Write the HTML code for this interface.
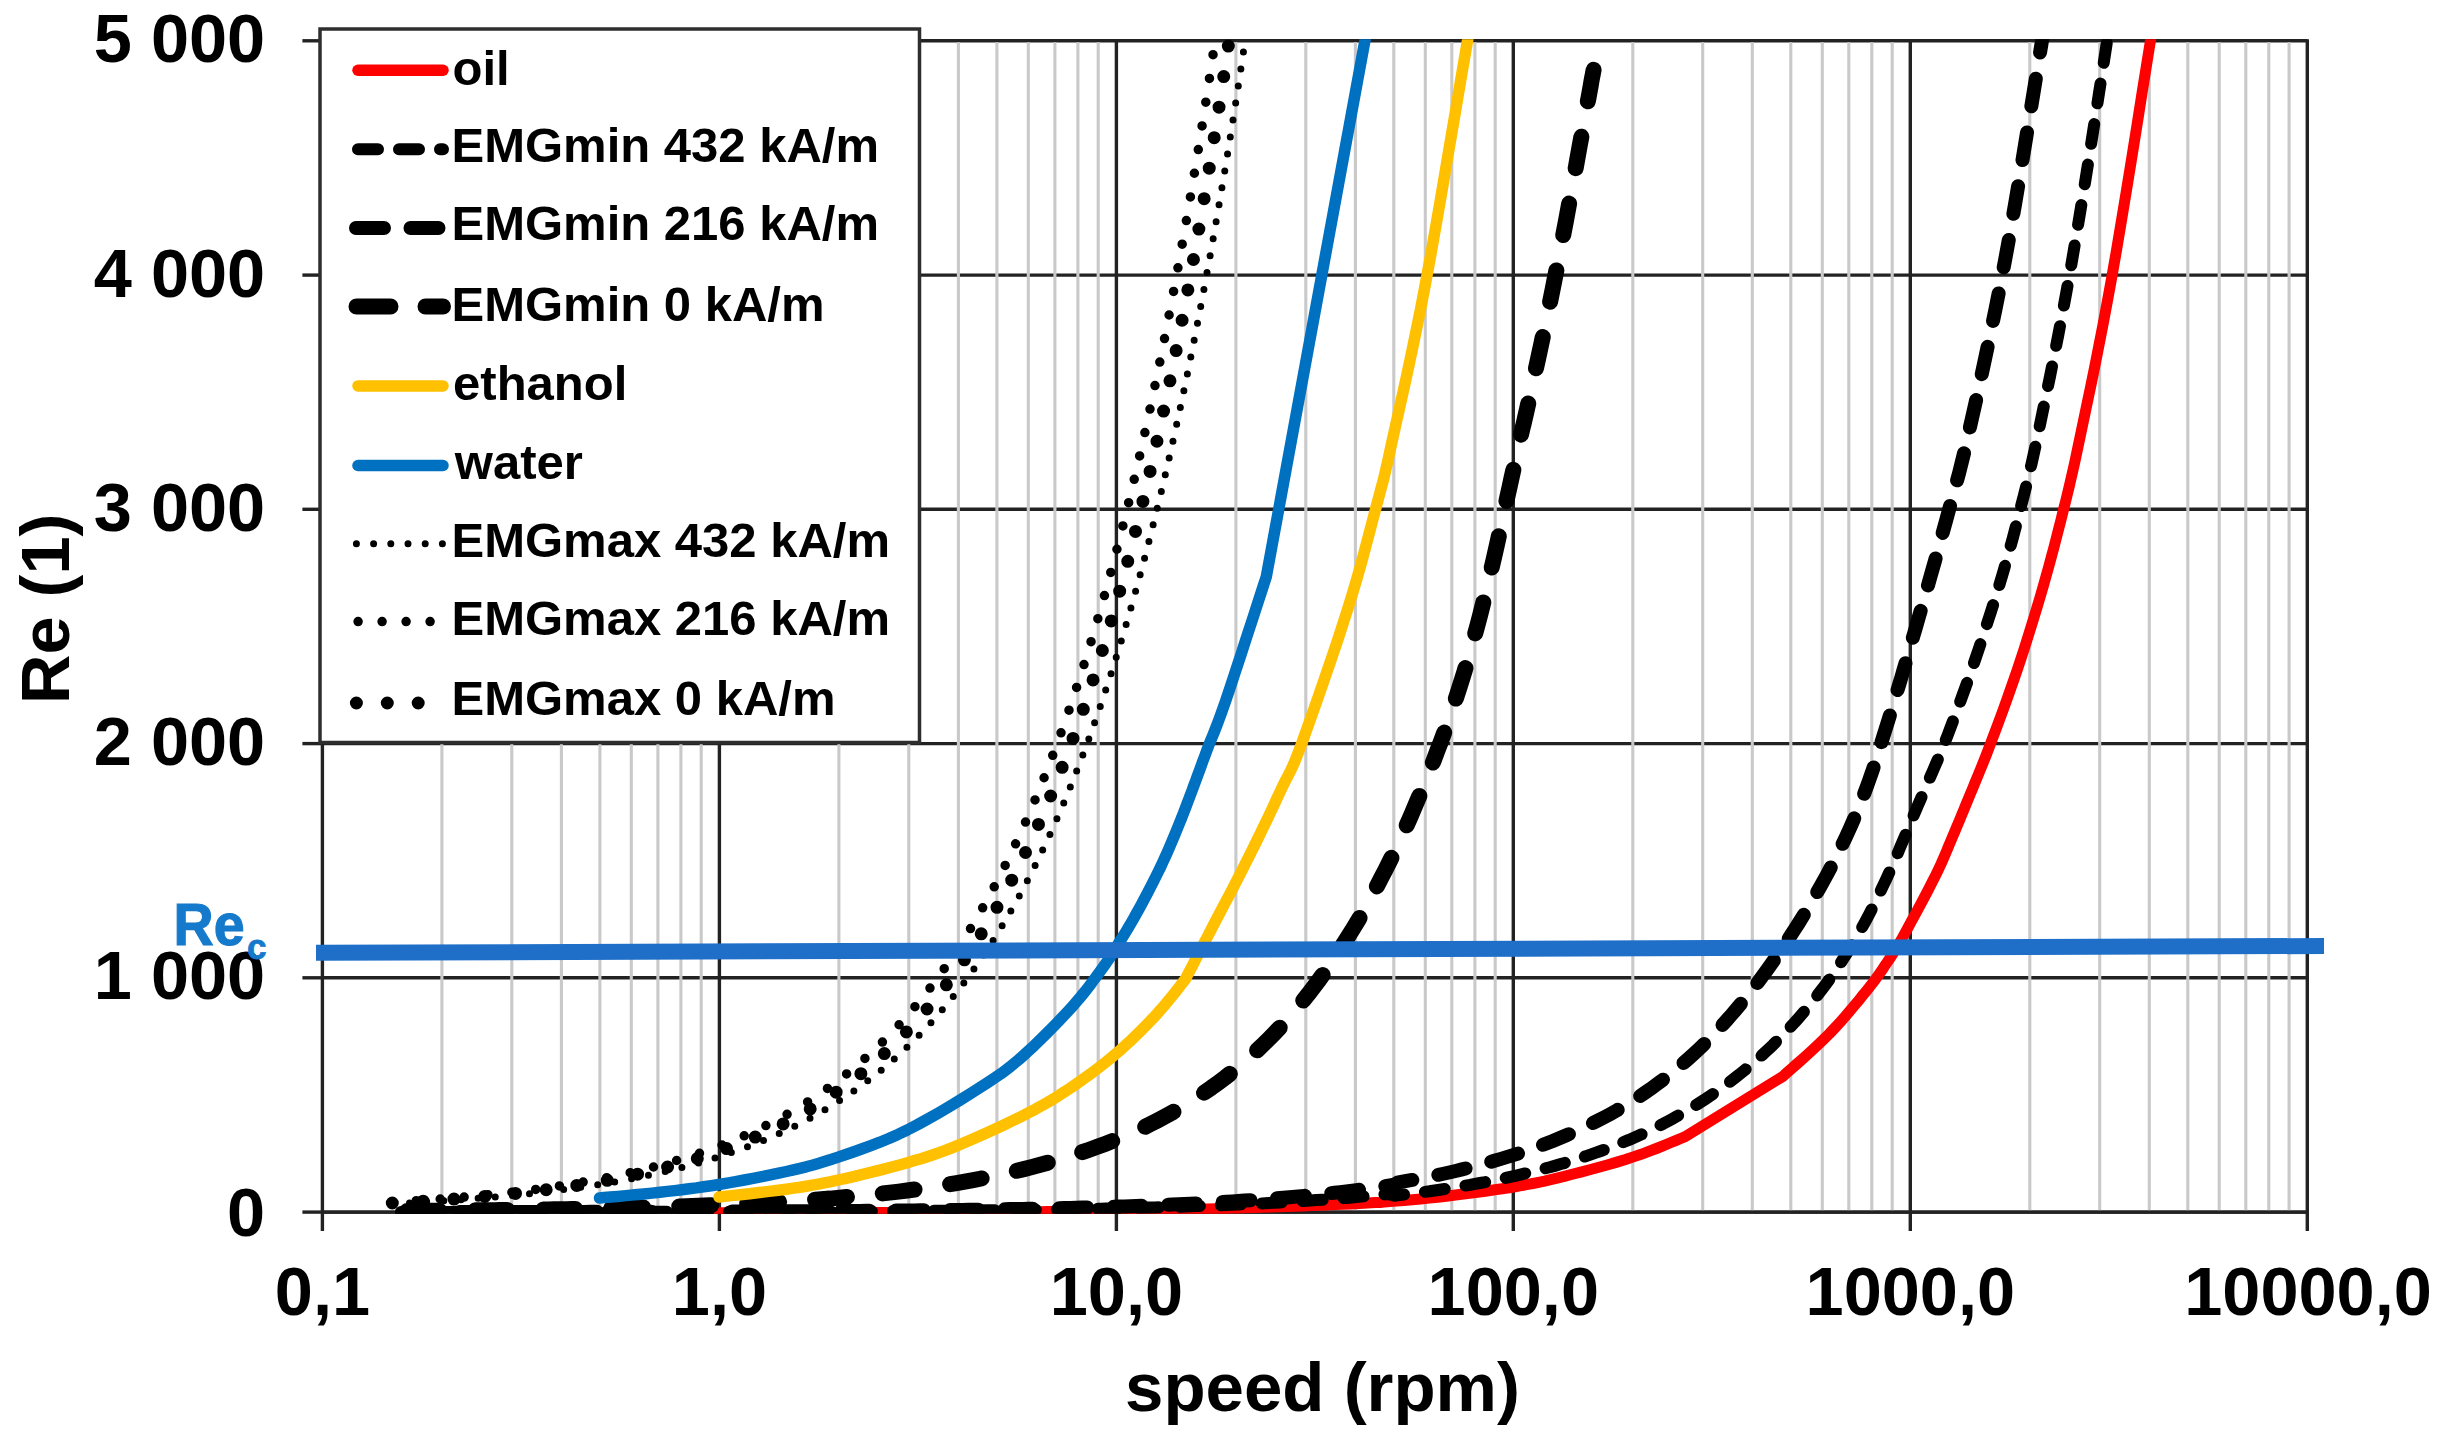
<!DOCTYPE html>
<html lang="en"><head><meta charset="utf-8"><title>Re vs speed</title>
<style>html,body{margin:0;padding:0;background:#fff;overflow:hidden}svg{display:block}</style></head>
<body>
<svg width="2437" height="1434" viewBox="0 0 2437 1434" role="img" aria-label="Reynolds number versus speed chart">
<defs><clipPath id="plot"><rect x="322.4" y="39.2" width="1984.9" height="1174.5"/></clipPath></defs>
<rect width="2437" height="1434" fill="#fff"/>
<g stroke="#222" stroke-width="3.4">
<line x1="322.4" y1="1212.1" x2="2307.3" y2="1212.1"/>
<line x1="322.4" y1="977.8" x2="2307.3" y2="977.8"/>
<line x1="322.4" y1="743.6" x2="2307.3" y2="743.6"/>
<line x1="322.4" y1="509.3" x2="2307.3" y2="509.3"/>
<line x1="322.4" y1="275.1" x2="2307.3" y2="275.1"/>
<line x1="322.4" y1="40.8" x2="2307.3" y2="40.8"/>
</g>
<g stroke="#c9c9c9" stroke-width="3.1">
<line x1="441.9" y1="42.3" x2="441.9" y2="1210.6"/>
<line x1="511.8" y1="42.3" x2="511.8" y2="1210.6"/>
<line x1="561.4" y1="42.3" x2="561.4" y2="1210.6"/>
<line x1="599.9" y1="42.3" x2="599.9" y2="1210.6"/>
<line x1="631.3" y1="42.3" x2="631.3" y2="1210.6"/>
<line x1="657.9" y1="42.3" x2="657.9" y2="1210.6"/>
<line x1="680.9" y1="42.3" x2="680.9" y2="1210.6"/>
<line x1="701.2" y1="42.3" x2="701.2" y2="1210.6"/>
<line x1="838.9" y1="42.3" x2="838.9" y2="1210.6"/>
<line x1="908.8" y1="42.3" x2="908.8" y2="1210.6"/>
<line x1="958.4" y1="42.3" x2="958.4" y2="1210.6"/>
<line x1="996.9" y1="42.3" x2="996.9" y2="1210.6"/>
<line x1="1028.3" y1="42.3" x2="1028.3" y2="1210.6"/>
<line x1="1054.9" y1="42.3" x2="1054.9" y2="1210.6"/>
<line x1="1077.9" y1="42.3" x2="1077.9" y2="1210.6"/>
<line x1="1098.2" y1="42.3" x2="1098.2" y2="1210.6"/>
<line x1="1235.9" y1="42.3" x2="1235.9" y2="1210.6"/>
<line x1="1305.8" y1="42.3" x2="1305.8" y2="1210.6"/>
<line x1="1355.4" y1="42.3" x2="1355.4" y2="1210.6"/>
<line x1="1393.8" y1="42.3" x2="1393.8" y2="1210.6"/>
<line x1="1425.3" y1="42.3" x2="1425.3" y2="1210.6"/>
<line x1="1451.8" y1="42.3" x2="1451.8" y2="1210.6"/>
<line x1="1474.9" y1="42.3" x2="1474.9" y2="1210.6"/>
<line x1="1495.2" y1="42.3" x2="1495.2" y2="1210.6"/>
<line x1="1632.8" y1="42.3" x2="1632.8" y2="1210.6"/>
<line x1="1702.7" y1="42.3" x2="1702.7" y2="1210.6"/>
<line x1="1752.3" y1="42.3" x2="1752.3" y2="1210.6"/>
<line x1="1790.8" y1="42.3" x2="1790.8" y2="1210.6"/>
<line x1="1822.3" y1="42.3" x2="1822.3" y2="1210.6"/>
<line x1="1848.8" y1="42.3" x2="1848.8" y2="1210.6"/>
<line x1="1871.8" y1="42.3" x2="1871.8" y2="1210.6"/>
<line x1="1892.2" y1="42.3" x2="1892.2" y2="1210.6"/>
<line x1="2029.8" y1="42.3" x2="2029.8" y2="1210.6"/>
<line x1="2099.7" y1="42.3" x2="2099.7" y2="1210.6"/>
<line x1="2149.3" y1="42.3" x2="2149.3" y2="1210.6"/>
<line x1="2187.8" y1="42.3" x2="2187.8" y2="1210.6"/>
<line x1="2219.2" y1="42.3" x2="2219.2" y2="1210.6"/>
<line x1="2245.8" y1="42.3" x2="2245.8" y2="1210.6"/>
<line x1="2268.8" y1="42.3" x2="2268.8" y2="1210.6"/>
<line x1="2289.1" y1="42.3" x2="2289.1" y2="1210.6"/>
</g>
<g stroke="#222" stroke-width="3.4">
<line x1="322.4" y1="39.3" x2="322.4" y2="1231.1"/>
<line x1="719.4" y1="39.3" x2="719.4" y2="1231.1"/>
<line x1="1116.4" y1="39.3" x2="1116.4" y2="1231.1"/>
<line x1="1513.3" y1="39.3" x2="1513.3" y2="1231.1"/>
<line x1="1910.3" y1="39.3" x2="1910.3" y2="1231.1"/>
<line x1="2307.3" y1="39.3" x2="2307.3" y2="1231.1"/>
<line x1="302.4" y1="1212.1" x2="322.4" y2="1212.1"/>
<line x1="302.4" y1="977.8" x2="322.4" y2="977.8"/>
<line x1="302.4" y1="743.6" x2="322.4" y2="743.6"/>
<line x1="302.4" y1="509.3" x2="322.4" y2="509.3"/>
<line x1="302.4" y1="275.1" x2="322.4" y2="275.1"/>
<line x1="302.4" y1="40.8" x2="322.4" y2="40.8"/>
<line x1="322.4" y1="1212.1" x2="2307.3" y2="1212.1"/>
</g>
<g clip-path="url(#plot)" fill="none" stroke-linecap="round" stroke-linejoin="round">
<path d="M719.4,1212.8 L727.4,1212.8 L735.4,1212.8 L743.4,1212.8 L751.4,1212.7 L759.4,1212.7 L767.4,1212.7 L775.4,1212.7 L783.4,1212.7 L791.4,1212.7 L799.4,1212.7 L807.4,1212.6 L815.4,1212.6 L823.4,1212.6 L831.4,1212.6 L839.4,1212.6 L847.4,1212.6 L855.4,1212.5 L863.4,1212.5 L871.4,1212.5 L879.4,1212.5 L887.4,1212.4 L895.4,1212.4 L903.4,1212.4 L911.4,1212.4 L919.4,1212.3 L927.4,1212.3 L935.4,1212.3 L943.4,1212.2 L951.4,1212.2 L959.4,1212.2 L967.4,1212.1 L975.4,1212.1 L983.4,1212.0 L991.4,1212.0 L999.4,1211.9 L1007.4,1211.9 L1015.4,1211.8 L1023.4,1211.8 L1031.4,1211.7 L1039.4,1211.7 L1047.4,1211.6 L1055.4,1211.5 L1063.4,1211.4 L1071.4,1211.4 L1079.4,1211.3 L1087.4,1211.2 L1095.4,1211.1 L1103.4,1211.0 L1111.4,1210.9 L1119.4,1210.8 L1127.4,1210.6 L1135.4,1210.5 L1143.4,1210.3 L1151.4,1210.2 L1159.4,1210.0 L1167.4,1209.9 L1175.4,1209.7 L1183.4,1209.5 L1191.4,1209.3 L1199.4,1209.1 L1207.4,1208.9 L1215.4,1208.7 L1223.4,1208.5 L1231.4,1208.3 L1239.4,1208.1 L1247.4,1207.8 L1255.4,1207.6 L1263.4,1207.3 L1271.4,1207.0 L1279.4,1206.8 L1287.4,1206.5 L1295.4,1206.2 L1303.4,1205.9 L1311.4,1205.6 L1319.4,1205.3 L1327.4,1204.9 L1335.4,1204.6 L1343.4,1204.2 L1351.4,1203.9 L1359.4,1203.5 L1367.4,1203.1 L1375.4,1202.6 L1380.0,1202.4 L1384.3,1202.0 L1389.9,1201.6 L1396.6,1201.0 L1404.1,1200.4 L1412.2,1199.7 L1420.6,1199.0 L1429.2,1198.1 L1437.6,1197.2 L1446.3,1196.2 L1455.6,1195.0 L1465.4,1193.8 L1475.4,1192.5 L1485.3,1191.2 L1494.9,1189.8 L1504.0,1188.5 L1512.4,1187.2 L1519.9,1185.9 L1526.6,1184.7 L1532.8,1183.5 L1538.7,1182.3 L1544.6,1181.1 L1550.7,1179.7 L1557.1,1178.1 L1564.3,1176.4 L1572.2,1174.3 L1580.8,1172.1 L1589.7,1169.7 L1598.9,1167.2 L1608.0,1164.7 L1616.9,1162.1 L1625.5,1159.5 L1633.4,1156.9 L1641.1,1154.3 L1648.8,1151.4 L1656.4,1148.5 L1663.6,1145.6 L1670.3,1142.8 L1676.3,1140.3 L1681.3,1138.2 L1685.2,1136.6 L1783.1,1076.2 L1786.7,1072.9 L1791.6,1068.6 L1797.4,1063.5 L1803.8,1057.8 L1810.5,1051.7 L1817.2,1045.5 L1823.5,1039.5 L1829.2,1033.9 L1834.4,1028.4 L1839.6,1022.8 L1844.6,1017.1 L1849.5,1011.4 L1854.2,1005.8 L1858.7,1000.4 L1862.8,995.3 L1866.6,990.7 L1870.0,986.4 L1872.9,982.6 L1875.6,979.1 L1878.0,975.8 L1880.2,972.6 L1882.4,969.5 L1884.5,966.2 L1886.8,962.9 L1889.0,959.6 L1891.0,956.6 L1892.8,953.8 L1894.7,950.9 L1896.6,947.7 L1898.8,944.1 L1901.2,939.9 L1904.0,934.9 L1907.4,928.8 L1911.2,921.7 L1915.5,913.9 L1919.9,905.7 L1924.3,897.4 L1928.5,889.4 L1932.3,881.8 L1935.7,875.2 L1938.5,869.3 L1941.0,864.0 L1943.2,859.0 L1945.2,854.3 L1947.1,849.9 L1948.9,845.4 L1950.8,841.0 L1952.7,836.4 L1954.7,831.8 L1956.5,827.4 L1958.3,823.1 L1960.1,818.8 L1961.9,814.4 L1963.8,809.8 L1965.8,804.9 L1968.0,799.6 L1970.3,794.0 L1972.7,788.3 L1975.1,782.4 L1977.7,776.2 L1980.3,769.8 L1983.1,762.9 L1986.0,755.6 L1989.0,747.8 L1992.2,739.3 L1995.6,730.3 L1999.1,720.8 L2002.8,710.9 L2006.5,700.7 L2010.1,690.4 L2013.7,680.2 L2017.2,670.0 L2020.6,659.8 L2024.0,649.4 L2027.3,638.9 L2030.6,628.3 L2033.9,617.7 L2037.1,607.2 L2040.2,596.8 L2043.1,586.7 L2045.9,576.8 L2048.6,567.1 L2051.2,557.5 L2053.8,547.9 L2056.2,538.5 L2058.6,529.1 L2061.0,519.8 L2063.3,510.4 L2065.5,501.8 L2067.4,494.0 L2069.2,486.6 L2070.9,479.1 L2072.8,471.0 L2074.9,461.6 L2077.2,450.6 L2080.0,437.4 L2083.2,422.1 L2086.7,405.4 L2090.5,387.3 L2094.5,367.8 L2098.6,347.1 L2102.9,325.3 L2107.2,302.3 L2111.6,278.3 L2116.3,251.5 L2121.4,221.0 L2126.8,188.3 L2132.2,155.1 L2137.4,122.7 L2142.1,92.7 L2146.3,66.6 L2149.6,46.0 L2152.0,31.0 L2153.7,20.3 L2154.7,13.1 L2155.4,8.5 L2155.7,5.7 L2155.9,3.9 L2156.1,2.3 L2156.4,0.0" stroke="#ff0000" stroke-width="11"/>
<path d="M392.3,1212.0 L398.3,1212.0 L404.3,1212.0 L410.3,1212.0 L416.3,1212.0 L422.3,1212.0 L428.3,1212.0 L434.3,1212.0 L440.3,1212.0 L446.3,1212.0 L452.3,1212.0 L458.3,1212.0 L464.3,1212.0 L470.3,1212.0 L476.3,1212.0 L482.3,1212.0 L488.3,1212.0 L494.3,1212.0 L500.3,1212.0 L506.3,1212.0 L512.3,1212.0 L518.3,1212.0 L524.3,1212.0 L530.3,1212.0 L536.3,1212.0 L542.3,1212.0 L548.3,1212.0 L554.3,1212.0 L560.3,1212.0 L566.3,1211.9 L572.3,1211.9 L578.3,1211.9 L584.3,1211.9 L590.3,1211.9 L596.3,1211.9 L602.3,1211.9 L608.3,1211.9 L614.3,1211.9 L620.3,1211.9 L626.3,1211.9 L632.3,1211.9 L638.3,1211.9 L644.3,1211.9 L650.3,1211.8 L656.3,1211.8 L662.3,1211.8 L668.3,1211.8 L674.3,1211.8 L680.3,1211.8 L686.3,1211.8 L692.3,1211.8 L698.3,1211.8 L704.3,1211.8 L710.3,1211.7 L716.3,1211.7 L722.3,1211.7 L728.3,1211.7 L734.3,1211.7 L740.3,1211.7 L746.3,1211.7 L752.3,1211.6 L758.3,1211.6 L764.3,1211.6 L770.3,1211.6 L776.3,1211.6 L782.3,1211.6 L788.3,1211.5 L794.3,1211.5 L800.3,1211.5 L806.3,1211.5 L812.3,1211.5 L818.3,1211.4 L824.3,1211.4 L830.3,1211.4 L836.3,1211.4 L842.3,1211.3 L848.3,1211.3 L854.3,1211.3 L860.3,1211.3 L866.3,1211.2 L872.3,1211.2 L878.3,1211.2 L884.3,1211.1 L890.3,1211.1 L896.3,1211.1 L902.3,1211.0 L908.3,1211.0 L914.3,1210.9 L920.3,1210.9 L926.3,1210.9 L932.3,1210.8 L938.3,1210.8 L944.3,1210.7 L950.3,1210.7 L956.3,1210.6 L962.3,1210.6 L968.3,1210.5 L974.3,1210.5 L980.3,1210.4 L986.3,1210.3 L992.3,1210.3 L998.3,1210.2 L1004.3,1210.1 L1010.3,1210.1 L1016.3,1210.0 L1022.3,1209.9 L1028.3,1209.9 L1034.3,1209.8 L1040.3,1209.7 L1046.3,1209.6 L1052.3,1209.5 L1058.3,1209.4 L1064.3,1209.3 L1070.3,1209.2 L1076.3,1209.1 L1082.3,1209.0 L1088.3,1208.9 L1094.3,1208.8 L1100.3,1208.7 L1106.3,1208.6 L1112.3,1208.4 L1118.3,1208.3 L1124.3,1208.2 L1130.3,1208.0 L1136.3,1207.9 L1142.3,1207.7 L1148.3,1207.6 L1154.3,1207.4 L1160.3,1207.3 L1166.3,1207.1 L1172.3,1206.9 L1178.3,1206.7 L1184.3,1206.5 L1190.3,1206.3 L1196.3,1206.1 L1202.3,1205.9 L1208.3,1205.7 L1214.3,1205.5 L1220.3,1205.3 L1226.3,1205.0 L1232.3,1204.8 L1238.3,1204.5 L1244.3,1204.2 L1250.3,1203.9 L1256.3,1203.7 L1262.3,1203.4 L1268.3,1203.1 L1274.3,1202.7 L1280.3,1202.4 L1286.3,1202.1 L1292.3,1201.7 L1298.3,1201.3 L1304.3,1201.0 L1310.3,1200.6 L1316.3,1200.1 L1322.3,1199.7 L1328.3,1199.3 L1334.3,1198.8 L1340.3,1198.4 L1346.3,1197.9 L1352.3,1197.4 L1358.3,1196.8 L1364.3,1196.3 L1370.3,1195.8 L1376.3,1195.2 L1382.3,1194.6 L1388.3,1194.0 L1394.4,1195.7 L1397.5,1195.3 L1401.6,1194.8 L1406.6,1194.2 L1412.0,1193.5 L1417.8,1192.8 L1423.7,1192.0 L1429.4,1191.3 L1434.7,1190.5 L1439.7,1189.8 L1444.8,1189.0 L1449.8,1188.2 L1454.8,1187.4 L1459.9,1186.6 L1464.9,1185.7 L1470.0,1184.9 L1475.0,1183.9 L1480.0,1183.0 L1485.1,1182.1 L1490.1,1181.1 L1495.2,1180.1 L1500.2,1179.1 L1505.2,1178.0 L1510.3,1176.9 L1515.3,1175.8 L1520.3,1174.6 L1525.4,1173.4 L1530.4,1172.2 L1535.4,1171.0 L1540.5,1169.7 L1545.5,1168.3 L1550.6,1167.0 L1555.6,1165.6 L1560.7,1164.1 L1565.8,1162.6 L1570.9,1161.0 L1576.0,1159.4 L1581.1,1157.8 L1586.1,1156.1 L1591.1,1154.4 L1596.0,1152.7 L1600.8,1151.0 L1605.6,1149.2 L1610.4,1147.4 L1615.1,1145.6 L1619.7,1143.7 L1624.3,1141.8 L1628.9,1139.9 L1633.4,1137.9 L1637.8,1136.0 L1642.2,1134.0 L1646.5,1132.0 L1650.7,1130.0 L1654.9,1128.0 L1659.2,1125.8 L1663.6,1123.6 L1668.0,1121.2 L1672.6,1118.7 L1677.3,1116.1 L1682.1,1113.3 L1686.9,1110.5 L1691.7,1107.6 L1696.4,1104.8 L1701.0,1101.9 L1705.4,1099.1 L1709.6,1096.3 L1713.8,1093.5 L1717.8,1090.7 L1721.7,1087.9 L1725.6,1085.0 L1729.4,1082.2 L1733.2,1079.3 L1737.0,1076.3 L1740.7,1073.4 L1744.4,1070.4 L1748.0,1067.4 L1751.6,1064.4 L1755.1,1061.4 L1758.7,1058.2 L1762.2,1055.0 L1765.8,1051.7 L1769.4,1048.3 L1773.1,1044.8 L1776.7,1041.2 L1780.4,1037.5 L1784.0,1033.8 L1787.6,1030.0 L1791.1,1026.2 L1794.6,1022.5 L1798.0,1018.7 L1801.3,1014.9 L1804.6,1011.0 L1807.9,1007.1 L1811.1,1003.2 L1814.3,999.3 L1817.4,995.3 L1820.5,991.3 L1823.5,987.3 L1826.5,983.3 L1829.4,979.4 L1832.2,975.3 L1835.1,971.2 L1837.9,967.1 L1840.7,962.8 L1843.6,958.3 L1846.5,953.7 L1849.4,949.0 L1852.4,944.2 L1855.3,939.2 L1858.2,934.2 L1861.0,929.2 L1863.9,924.1 L1866.6,919.1 L1869.3,914.0 L1871.9,908.9 L1874.5,903.7 L1877.1,898.5 L1879.6,893.3 L1882.0,888.1 L1884.4,883.0 L1886.8,877.9 L1889.1,872.8 L1891.4,867.6 L1893.7,862.5 L1895.9,857.3 L1898.1,852.3 L1900.1,847.5 L1902.0,843.0 L1903.8,838.8 L1905.4,835.2 L1906.7,832.1 L1907.8,829.3 L1908.9,826.7 L1910.0,824.1 L1911.1,821.3 L1912.5,818.2 L1914.0,814.5 L1915.8,810.3 L1917.8,805.7 L1919.9,800.8 L1922.1,795.7 L1924.4,790.5 L1926.6,785.3 L1928.8,780.3 L1930.8,775.6 L1932.7,771.3 L1934.4,767.4 L1936.0,763.7 L1937.6,760.0 L1939.3,756.1 L1941.1,751.9 L1943.0,747.1 L1945.2,741.5 L1947.7,735.1 L1950.4,727.9 L1953.3,720.2 L1956.3,712.1 L1959.4,703.9 L1962.4,695.6 L1965.4,687.4 L1968.2,679.6 L1970.9,671.9 L1973.6,664.2 L1976.2,656.5 L1978.8,648.8 L1981.3,641.3 L1983.7,633.8 L1986.1,626.6 L1988.4,619.5 L1990.6,612.8 L1992.6,606.5 L1994.6,600.3 L1996.5,594.3 L1998.4,588.3 L2000.2,582.1 L2002.2,575.6 L2004.2,568.6 L2006.3,561.3 L2008.4,553.8 L2010.6,546.0 L2012.8,538.1 L2014.9,530.0 L2017.1,521.7 L2019.3,513.2 L2021.5,504.6 L2023.6,496.5 L2025.5,488.9 L2027.3,481.5 L2029.2,473.8 L2031.2,465.3 L2033.4,455.5 L2035.9,444.1 L2038.8,430.4 L2042.1,414.6 L2045.7,397.1 L2049.7,378.0 L2053.8,357.5 L2058.1,336.0 L2062.4,313.5 L2066.7,290.4 L2071.0,266.7 L2075.4,240.9 L2080.2,212.0 L2085.2,181.5 L2090.1,150.5 L2094.8,120.4 L2099.1,92.5 L2102.9,68.2 L2105.9,48.6 L2108.1,34.1 L2109.6,23.4 L2110.6,15.8 L2111.2,10.7 L2111.5,7.2 L2111.7,4.8 L2111.8,2.6 L2112.1,0.0" stroke="#000" stroke-width="12" stroke-dasharray="20 21" stroke-dashoffset="-8.6"/>
<path d="M392.3,1212.0 L398.3,1212.0 L404.3,1212.0 L410.3,1212.0 L416.3,1212.0 L422.3,1212.0 L428.3,1212.0 L434.3,1212.0 L440.3,1212.0 L446.3,1212.0 L452.3,1212.0 L458.3,1212.0 L464.3,1212.0 L470.3,1212.0 L476.3,1212.0 L482.3,1212.0 L488.3,1212.0 L494.3,1212.0 L500.3,1211.9 L506.3,1211.9 L512.3,1211.9 L518.3,1211.9 L524.3,1211.9 L530.3,1211.9 L536.3,1211.9 L542.3,1211.9 L548.3,1211.9 L554.3,1211.9 L560.3,1211.9 L566.3,1211.9 L572.3,1211.9 L578.3,1211.9 L584.3,1211.9 L590.3,1211.8 L596.3,1211.8 L602.3,1211.8 L608.3,1211.8 L614.3,1211.8 L620.3,1211.8 L626.3,1211.8 L632.3,1211.8 L638.3,1211.8 L644.3,1211.7 L650.3,1211.7 L656.3,1211.7 L662.3,1211.7 L668.3,1211.7 L674.3,1211.7 L680.3,1211.7 L686.3,1211.6 L692.3,1211.6 L698.3,1211.6 L704.3,1211.6 L710.3,1211.6 L716.3,1211.6 L722.3,1211.5 L728.3,1211.5 L734.3,1211.5 L740.3,1211.5 L746.3,1211.5 L752.3,1211.4 L758.3,1211.4 L764.3,1211.4 L770.3,1211.4 L776.3,1211.3 L782.3,1211.3 L788.3,1211.3 L794.3,1211.3 L800.3,1211.2 L806.3,1211.2 L812.3,1211.2 L818.3,1211.1 L824.3,1211.1 L830.3,1211.1 L836.3,1211.0 L842.3,1211.0 L848.3,1210.9 L854.3,1210.9 L860.3,1210.9 L866.3,1210.8 L872.3,1210.8 L878.3,1210.7 L884.3,1210.7 L890.3,1210.6 L896.3,1210.6 L902.3,1210.5 L908.3,1210.5 L914.3,1210.4 L920.3,1210.3 L926.3,1210.3 L932.3,1210.2 L938.3,1210.2 L944.3,1210.1 L950.3,1210.0 L956.3,1209.9 L962.3,1209.9 L968.3,1209.8 L974.3,1209.7 L980.3,1209.6 L986.3,1209.5 L992.3,1209.4 L998.3,1209.3 L1004.3,1209.3 L1010.3,1209.1 L1016.3,1209.0 L1022.3,1208.9 L1028.3,1208.8 L1034.3,1208.7 L1040.3,1208.6 L1046.3,1208.5 L1052.3,1208.3 L1058.3,1208.2 L1064.3,1208.1 L1070.3,1207.9 L1076.3,1207.8 L1082.3,1207.6 L1088.3,1207.5 L1094.3,1207.3 L1100.3,1207.1 L1106.3,1207.0 L1112.3,1206.8 L1118.3,1206.6 L1124.3,1206.4 L1130.3,1206.2 L1136.3,1206.0 L1142.3,1205.8 L1148.3,1205.5 L1154.3,1205.3 L1160.3,1205.1 L1166.3,1204.8 L1172.3,1204.5 L1178.3,1204.3 L1184.3,1204.0 L1190.3,1203.7 L1196.3,1203.4 L1202.3,1203.1 L1208.3,1202.8 L1214.3,1202.5 L1220.3,1202.1 L1226.3,1201.8 L1232.3,1201.4 L1238.3,1201.0 L1244.3,1200.6 L1250.3,1200.2 L1256.3,1199.8 L1262.3,1199.4 L1268.3,1198.9 L1274.3,1198.5 L1280.3,1198.0 L1286.3,1197.5 L1292.3,1197.0 L1298.3,1196.4 L1304.3,1195.9 L1310.3,1195.3 L1316.3,1194.7 L1322.3,1194.1 L1328.3,1193.4 L1334.3,1192.8 L1340.3,1192.1 L1346.3,1191.4 L1352.3,1190.7 L1358.3,1189.9 L1364.3,1189.1 L1370.3,1188.3 L1376.3,1187.4 L1382.3,1186.6 L1388.3,1185.7 L1394.3,1184.7 L1397.3,1182.7 L1401.3,1181.9 L1406.6,1180.9 L1412.9,1179.8 L1420.0,1178.4 L1427.4,1177.0 L1434.9,1175.5 L1442.3,1174.0 L1449.1,1172.5 L1455.6,1171.0 L1462.0,1169.4 L1468.5,1167.8 L1475.0,1166.2 L1481.5,1164.5 L1487.9,1162.7 L1494.4,1160.8 L1500.9,1158.9 L1507.4,1156.9 L1513.9,1154.9 L1520.4,1152.8 L1526.8,1150.6 L1533.3,1148.3 L1539.8,1146.0 L1546.3,1143.5 L1552.8,1141.0 L1559.3,1138.3 L1565.9,1135.5 L1572.5,1132.6 L1579.1,1129.7 L1585.6,1126.6 L1592.1,1123.5 L1598.4,1120.3 L1604.6,1117.1 L1610.7,1113.8 L1616.6,1110.5 L1622.4,1107.1 L1628.2,1103.6 L1633.9,1100.1 L1639.5,1096.4 L1645.1,1092.6 L1650.7,1088.8 L1656.3,1084.7 L1661.8,1080.6 L1667.4,1076.3 L1672.8,1071.9 L1678.3,1067.4 L1683.6,1062.9 L1688.8,1058.4 L1693.9,1053.8 L1698.9,1049.1 L1703.8,1044.4 L1708.6,1039.6 L1713.3,1034.7 L1717.9,1029.8 L1722.5,1024.9 L1726.9,1020.0 L1731.3,1015.0 L1735.5,1010.2 L1739.6,1005.3 L1743.6,1000.5 L1747.5,995.7 L1751.4,990.8 L1755.2,985.8 L1759.1,980.7 L1763.0,975.4 L1767.0,970.0 L1771.0,964.4 L1775.0,958.7 L1779.0,953.0 L1783.0,947.2 L1786.9,941.3 L1790.8,935.4 L1794.6,929.5 L1798.4,923.6 L1802.1,917.6 L1805.8,911.6 L1809.4,905.6 L1813.0,899.5 L1816.5,893.4 L1820.0,887.3 L1823.4,881.2 L1826.8,875.0 L1830.1,868.8 L1833.4,862.5 L1836.6,856.2 L1839.7,849.9 L1842.7,843.7 L1845.7,837.5 L1848.5,831.4 L1851.2,825.4 L1853.8,819.4 L1856.3,813.5 L1858.7,807.7 L1861.0,801.9 L1863.3,796.1 L1865.4,790.5 L1867.5,784.9 L1869.4,779.5 L1871.2,774.4 L1872.9,769.5 L1874.5,764.6 L1876.1,759.6 L1877.7,754.4 L1879.4,748.9 L1881.3,742.9 L1883.3,736.4 L1885.5,729.4 L1887.8,722.1 L1890.1,714.7 L1892.4,707.1 L1894.7,699.5 L1896.9,692.1 L1899.1,684.9 L1901.2,677.9 L1903.2,671.0 L1905.2,664.2 L1907.2,657.4 L1909.1,650.7 L1911.1,644.0 L1913.0,637.2 L1915.0,630.4 L1917.0,623.6 L1918.9,616.8 L1920.9,610.1 L1922.8,603.4 L1924.8,596.6 L1926.7,589.7 L1928.8,582.6 L1930.8,575.4 L1932.9,568.0 L1935.0,560.7 L1937.1,553.2 L1939.2,545.6 L1941.3,537.9 L1943.5,529.9 L1945.8,521.6 L1948.1,513.1 L1950.4,504.7 L1952.5,496.9 L1954.7,489.2 L1956.9,481.1 L1959.3,472.2 L1961.9,461.8 L1964.9,449.6 L1968.2,435.1 L1972.0,418.2 L1976.3,399.2 L1980.8,378.5 L1985.6,356.3 L1990.5,333.1 L1995.5,309.1 L2000.4,284.6 L2005.1,260.0 L2009.9,233.7 L2015.0,204.5 L2020.2,173.9 L2025.3,143.0 L2030.2,113.1 L2034.7,85.6 L2038.6,61.6 L2041.7,42.5 L2044.0,28.5 L2045.6,18.6 L2046.7,11.9 L2047.3,7.7 L2047.6,5.1 L2047.8,3.5 L2048.0,2.1 L2048.3,0.0" stroke="#000" stroke-width="14" stroke-dasharray="28 26.5" stroke-dashoffset="-13"/>
<path d="M392.3,1211.0 L398.3,1211.0 L404.3,1210.9 L410.3,1210.9 L416.3,1210.9 L422.3,1210.8 L428.3,1210.8 L434.3,1210.7 L440.3,1210.7 L446.3,1210.6 L452.3,1210.6 L458.3,1210.5 L464.3,1210.5 L470.3,1210.4 L476.3,1210.3 L482.3,1210.3 L488.3,1210.2 L494.3,1210.2 L500.3,1210.1 L506.3,1210.0 L512.3,1209.9 L518.3,1209.9 L524.3,1209.8 L530.3,1209.7 L536.3,1209.6 L542.3,1209.5 L548.3,1209.4 L554.3,1209.3 L560.3,1209.3 L566.3,1209.2 L572.3,1209.0 L578.3,1208.9 L584.3,1208.8 L590.3,1208.7 L596.3,1208.6 L602.3,1208.5 L608.3,1208.3 L614.3,1208.2 L620.3,1208.1 L626.3,1207.9 L632.3,1207.8 L638.3,1207.6 L644.3,1207.5 L650.3,1207.3 L656.3,1207.1 L662.3,1207.0 L668.3,1206.8 L674.3,1206.6 L680.3,1206.4 L686.3,1206.2 L692.3,1206.0 L698.3,1205.8 L704.3,1205.5 L710.3,1205.3 L716.3,1205.1 L722.3,1204.8 L728.3,1204.6 L734.3,1204.3 L740.3,1204.0 L746.3,1203.7 L752.3,1203.4 L758.3,1203.1 L764.3,1202.8 L770.3,1202.5 L776.3,1202.1 L782.3,1201.8 L788.3,1201.4 L794.3,1201.0 L800.3,1200.6 L806.3,1200.2 L812.3,1199.8 L818.3,1199.4 L824.3,1198.9 L829.6,1198.6 L835.0,1198.1 L842.1,1197.4 L850.6,1196.6 L860.0,1195.7 L870.0,1194.7 L880.0,1193.7 L889.7,1192.6 L898.7,1191.6 L907.1,1190.5 L915.5,1189.4 L923.7,1188.2 L932.0,1187.0 L940.2,1185.8 L948.4,1184.5 L956.6,1183.1 L964.9,1181.6 L973.2,1180.1 L981.4,1178.5 L989.7,1176.8 L998.0,1175.1 L1006.3,1173.3 L1014.5,1171.4 L1022.8,1169.4 L1031.1,1167.3 L1039.4,1165.1 L1047.8,1162.7 L1056.2,1160.3 L1064.6,1157.8 L1072.9,1155.2 L1081.2,1152.5 L1089.3,1149.7 L1097.3,1146.8 L1105.1,1143.9 L1112.8,1140.9 L1120.4,1137.8 L1127.9,1134.7 L1135.4,1131.4 L1142.8,1127.9 L1150.3,1124.2 L1157.8,1120.3 L1165.4,1116.2 L1173.2,1111.9 L1180.9,1107.3 L1188.7,1102.6 L1196.4,1097.8 L1203.9,1092.8 L1211.2,1087.8 L1218.3,1082.7 L1225.1,1077.6 L1231.7,1072.4 L1238.2,1067.2 L1244.5,1061.8 L1250.7,1056.3 L1256.7,1050.7 L1262.7,1045.0 L1268.7,1039.1 L1274.6,1033.1 L1280.4,1027.0 L1286.0,1020.8 L1291.6,1014.4 L1297.1,1007.9 L1302.6,1001.3 L1308.0,994.6 L1313.3,987.7 L1318.6,980.6 L1323.9,973.3 L1329.1,965.8 L1334.3,958.2 L1339.3,950.5 L1344.2,942.9 L1349.0,935.3 L1353.6,927.9 L1358.0,920.6 L1362.3,913.3 L1366.4,906.0 L1370.3,898.8 L1374.2,891.6 L1377.9,884.4 L1381.6,877.2 L1385.3,870.1 L1388.8,863.1 L1392.2,856.3 L1395.5,849.6 L1398.7,842.9 L1401.9,836.1 L1405.1,829.0 L1408.3,821.7 L1411.7,814.0 L1415.2,805.7 L1418.9,797.0 L1422.6,788.0 L1426.4,778.7 L1430.1,769.5 L1433.8,760.2 L1437.2,751.2 L1440.5,742.6 L1443.6,734.3 L1446.5,726.3 L1449.2,718.4 L1451.9,710.6 L1454.5,702.8 L1457.0,695.1 L1459.5,687.3 L1462.0,679.3 L1464.5,671.3 L1466.9,663.2 L1469.2,655.0 L1471.6,646.9 L1473.8,638.7 L1476.0,630.6 L1478.2,622.5 L1480.3,614.5 L1482.3,606.5 L1484.3,598.6 L1486.3,590.6 L1488.2,582.8 L1490.0,574.9 L1491.8,567.2 L1493.6,559.5 L1495.3,551.9 L1497.0,544.4 L1498.6,537.1 L1500.2,529.9 L1501.8,522.7 L1503.3,515.6 L1504.9,508.5 L1506.4,501.3 L1508.0,494.0 L1509.7,486.5 L1511.4,478.5 L1513.2,470.5 L1514.9,462.4 L1516.6,454.6 L1518.2,447.3 L1519.7,440.6 L1521.0,434.9 L1522.0,430.3 L1522.8,427.1 L1523.4,424.7 L1523.9,422.6 L1524.4,420.5 L1525.0,417.9 L1525.8,414.4 L1526.9,409.5 L1528.3,403.2 L1529.9,395.9 L1531.7,387.7 L1533.7,379.1 L1535.6,370.1 L1537.6,361.0 L1539.5,352.2 L1541.3,343.9 L1543.0,335.9 L1544.7,328.0 L1546.3,320.2 L1547.9,312.5 L1549.5,304.7 L1551.1,296.9 L1552.7,289.0 L1554.3,280.9 L1555.9,272.7 L1557.6,264.4 L1559.2,255.9 L1560.8,247.5 L1562.5,239.0 L1564.1,230.6 L1565.7,222.2 L1567.2,214.1 L1568.7,205.9 L1570.2,197.7 L1571.7,189.6 L1573.2,181.5 L1574.7,173.6 L1576.1,165.9 L1577.4,158.5 L1578.7,151.4 L1579.9,144.6 L1581.1,138.2 L1582.2,132.1 L1583.3,126.2 L1584.3,120.5 L1585.4,114.8 L1586.4,109.2 L1587.4,103.7 L1588.5,97.9 L1589.6,91.8 L1590.7,85.8 L1591.7,79.8 L1592.8,74.3 L1593.7,69.3 L1594.4,65.2 L1595.0,62.0" stroke="#000" stroke-width="16" stroke-dasharray="32 36" stroke-dashoffset="-15"/>
<path d="M719.0,1197.0 L724.3,1196.4 L731.5,1195.6 L740.0,1194.7 L749.5,1193.7 L759.3,1192.5 L769.1,1191.4 L778.3,1190.3 L786.4,1189.2 L793.5,1188.1 L800.0,1187.2 L806.2,1186.2 L812.2,1185.2 L818.2,1184.1 L824.4,1182.9 L831.0,1181.6 L838.2,1180.0 L846.1,1178.3 L854.7,1176.3 L863.6,1174.2 L872.8,1171.9 L881.9,1169.6 L890.8,1167.3 L899.4,1165.0 L907.3,1162.8 L914.5,1160.6 L921.1,1158.7 L927.2,1156.7 L933.2,1154.7 L939.2,1152.6 L945.3,1150.4 L951.9,1147.8 L959.1,1144.9 L967.1,1141.5 L975.7,1137.8 L984.8,1133.7 L994.1,1129.5 L1003.3,1125.2 L1012.2,1120.9 L1020.6,1116.8 L1028.3,1112.9 L1035.2,1109.3 L1041.5,1105.8 L1047.4,1102.5 L1053.0,1099.1 L1058.4,1095.8 L1063.6,1092.4 L1068.9,1089.0 L1074.3,1085.4 L1079.8,1081.6 L1085.2,1077.7 L1090.7,1073.8 L1096.0,1069.7 L1101.2,1065.7 L1106.3,1061.7 L1111.3,1057.6 L1116.0,1053.7 L1120.6,1049.8 L1125.0,1045.8 L1129.4,1041.8 L1133.5,1037.8 L1137.6,1033.9 L1141.4,1030.1 L1145.0,1026.4 L1148.5,1022.9 L1151.7,1019.5 L1154.7,1016.4 L1157.5,1013.3 L1160.1,1010.3 L1162.6,1007.5 L1165.0,1004.7 L1167.3,1001.9 L1169.6,999.1 L1171.9,996.3 L1174.3,993.4 L1176.6,990.4 L1178.9,987.6 L1180.9,984.9 L1182.8,982.5 L1184.3,980.5 L1185.5,979.0 L1186.6,976.8 L1188.1,973.9 L1189.9,970.5 L1191.9,966.7 L1194.0,962.6 L1196.1,958.5 L1198.3,954.3 L1200.3,950.4 L1202.3,946.6 L1204.3,942.8 L1206.3,938.9 L1208.3,935.0 L1210.4,931.0 L1212.5,926.9 L1214.7,922.6 L1217.0,918.3 L1219.4,913.8 L1221.8,909.1 L1224.3,904.4 L1226.9,899.6 L1229.5,894.6 L1232.1,889.6 L1234.8,884.4 L1237.5,879.2 L1240.2,873.9 L1243.0,868.4 L1245.8,862.8 L1248.7,857.1 L1251.6,851.3 L1254.4,845.6 L1257.2,839.9 L1260.0,834.2 L1262.7,828.6 L1265.4,823.0 L1268.1,817.4 L1270.7,811.8 L1273.4,806.2 L1276.0,800.5 L1278.6,794.9 L1281.2,789.3 L1283.6,784.3 L1285.7,780.2 L1287.7,776.4 L1289.7,772.5 L1292.0,767.8 L1294.6,761.9 L1297.7,754.1 L1301.5,744.1 L1306.2,731.0 L1311.8,715.3 L1318.0,697.7 L1324.5,678.8 L1331.1,659.6 L1337.5,640.6 L1343.3,622.7 L1348.5,606.6 L1353.0,591.9 L1357.2,577.6 L1361.1,563.9 L1364.6,550.8 L1367.9,538.3 L1371.0,526.5 L1373.9,515.4 L1376.6,505.2 L1378.9,496.8 L1380.5,490.6 L1381.8,485.8 L1383.0,481.4 L1384.2,476.5 L1385.7,470.2 L1387.7,461.5 L1390.3,449.5 L1393.6,434.6 L1397.4,417.6 L1401.6,398.8 L1406.1,378.4 L1410.8,356.4 L1415.7,333.0 L1420.7,308.5 L1425.6,282.9 L1430.9,254.2 L1436.7,221.3 L1442.8,185.9 L1448.9,149.8 L1454.9,114.7 L1460.3,82.5 L1465.1,54.7 L1468.8,33.3 L1471.5,18.6 L1473.3,9.0 L1474.5,3.5 L1475.2,1.1 L1475.5,0.6 L1475.7,0.9 L1475.9,1.1 L1476.2,0.0" stroke="#ffc000" stroke-width="11.5"/>
<path d="M599.5,1198.0 L604.2,1197.6 L610.4,1197.0 L617.8,1196.4 L626.1,1195.6 L634.8,1194.8 L643.6,1194.0 L652.1,1193.1 L660.0,1192.3 L667.4,1191.4 L674.7,1190.6 L681.9,1189.7 L689.1,1188.8 L696.3,1187.9 L703.7,1186.8 L711.2,1185.7 L719.0,1184.5 L727.1,1183.1 L735.6,1181.6 L744.3,1180.0 L753.1,1178.4 L761.9,1176.7 L770.4,1174.9 L778.7,1173.2 L786.4,1171.5 L793.5,1169.8 L800.0,1168.3 L806.2,1166.8 L812.2,1165.2 L818.2,1163.5 L824.4,1161.6 L831.0,1159.5 L838.2,1157.1 L845.9,1154.5 L854.0,1151.7 L862.3,1148.8 L870.9,1145.6 L879.8,1142.2 L888.8,1138.5 L898.0,1134.4 L907.3,1130.0 L917.1,1124.9 L927.6,1119.1 L938.5,1112.9 L949.5,1106.5 L960.2,1100.0 L970.4,1093.6 L979.8,1087.7 L988.0,1082.4 L994.9,1077.8 L1000.8,1073.8 L1005.8,1070.1 L1010.3,1066.7 L1014.5,1063.2 L1018.8,1059.6 L1023.3,1055.6 L1028.3,1051.0 L1033.9,1045.9 L1039.8,1040.2 L1045.9,1034.2 L1052.0,1028.0 L1058.1,1021.8 L1063.9,1015.6 L1069.3,1009.8 L1074.3,1004.3 L1078.8,999.1 L1083.0,994.0 L1087.0,989.0 L1090.7,984.2 L1094.1,979.5 L1097.3,975.2 L1100.3,971.1 L1103.0,967.3 L1105.4,964.0 L1107.3,961.3 L1108.9,958.9 L1110.4,956.7 L1111.7,954.6 L1113.1,952.3 L1114.7,949.7 L1116.6,946.7 L1118.7,943.2 L1121.0,939.6 L1123.4,935.7 L1125.9,931.7 L1128.4,927.5 L1131.0,923.1 L1133.6,918.6 L1136.2,913.9 L1138.9,909.1 L1141.7,903.9 L1144.6,898.5 L1147.5,893.0 L1150.4,887.4 L1153.2,881.9 L1155.9,876.5 L1158.5,871.3 L1160.9,866.4 L1163.1,861.5 L1165.3,856.8 L1167.4,852.1 L1169.4,847.5 L1171.4,842.8 L1173.4,838.0 L1175.5,833.0 L1177.6,827.9 L1179.7,822.7 L1181.8,817.5 L1183.8,812.2 L1185.9,806.8 L1187.9,801.5 L1189.9,796.2 L1191.9,791.0 L1193.8,785.8 L1195.7,780.8 L1197.5,775.8 L1199.3,770.9 L1201.2,765.8 L1203.0,760.7 L1205.0,755.5 L1207.0,750.0 L1209.0,744.8 L1210.8,740.2 L1212.7,735.7 L1214.6,731.0 L1216.7,725.6 L1219.1,719.2 L1222.0,711.3 L1225.4,701.6 L1229.7,688.8 L1235.0,672.8 L1240.9,654.9 L1247.0,636.1 L1253.0,617.8 L1258.4,601.0 L1263.0,586.9 L1266.3,576.8 L1372.4,0.0" stroke="#0070c0" stroke-width="11.5"/>
<path d="M392.3,1203.8 L396.3,1203.6 L400.3,1203.4 L404.3,1203.2 L408.3,1203.0 L412.3,1202.7 L416.3,1202.5 L420.3,1202.3 L424.3,1202.1 L428.3,1201.8 L432.3,1201.6 L436.3,1201.4 L440.3,1201.1 L444.3,1200.8 L448.3,1200.6 L452.3,1200.3 L456.3,1200.0 L460.3,1199.7 L464.3,1199.5 L468.3,1199.2 L472.3,1198.9 L476.3,1198.5 L480.3,1198.2 L484.3,1197.9 L488.3,1197.6 L492.3,1197.2 L496.3,1196.9 L500.3,1196.5 L504.3,1196.2 L508.3,1195.8 L512.3,1195.4 L516.3,1195.0 L520.3,1194.6 L524.3,1194.2 L528.3,1193.8 L532.3,1193.3 L536.3,1192.9 L540.3,1192.5 L544.3,1192.0 L548.3,1191.5 L552.3,1191.0 L556.3,1190.5 L560.3,1190.0 L564.3,1189.5 L568.3,1189.0 L572.3,1188.4 L576.3,1187.9 L580.3,1187.3 L584.3,1186.7 L588.3,1186.1 L592.3,1185.5 L596.3,1184.9 L600.3,1184.3 L604.3,1183.6 L608.3,1182.9 L612.3,1182.3 L616.3,1181.6 L620.3,1180.8 L624.3,1180.1 L628.3,1179.4 L632.3,1178.6 L636.3,1177.8 L640.3,1177.0 L644.3,1176.2 L648.3,1175.3 L652.3,1174.5 L656.3,1173.6 L660.3,1172.7 L664.3,1171.8 L668.3,1170.8 L672.3,1169.8 L676.3,1168.9 L680.3,1167.8 L684.3,1166.8 L688.3,1165.7 L692.3,1164.6 L696.3,1163.5 L700.3,1162.4 L704.3,1161.2 L708.3,1160.0 L712.3,1158.8 L716.3,1157.6 L720.3,1156.3 L724.3,1155.0 L728.3,1153.6 L732.3,1152.3 L736.3,1150.9 L740.3,1149.4 L744.3,1147.9 L748.3,1146.4 L752.3,1144.9 L756.3,1143.3 L760.3,1141.7 L764.3,1140.1 L768.3,1138.4 L772.3,1136.6 L776.3,1134.9 L780.3,1133.0 L784.3,1131.2 L788.3,1129.3 L792.3,1127.3 L796.3,1125.4 L800.3,1123.3 L804.3,1121.2 L808.3,1119.1 L812.3,1116.9 L816.3,1114.7 L820.3,1112.4 L824.3,1110.1 L828.3,1107.7 L832.3,1105.2 L836.3,1102.7 L840.3,1100.1 L844.3,1097.5 L848.3,1094.8 L852.3,1092.1 L856.3,1089.3 L860.3,1086.4 L864.3,1083.4 L868.3,1080.4 L872.3,1077.3 L876.3,1074.1 L880.3,1070.9 L884.3,1067.6 L888.3,1064.2 L892.3,1060.7 L896.3,1057.2 L900.3,1053.5 L904.3,1049.8 L908.3,1046.0 L912.3,1042.1 L916.3,1038.1 L920.3,1034.0 L924.3,1029.9 L928.3,1025.6 L932.3,1021.2 L936.3,1016.7 L940.3,1012.1 L944.3,1007.4 L948.3,1002.6 L952.3,997.7 L956.3,992.7 L960.3,987.5 L964.3,982.3 L968.3,976.9 L972.3,971.3 L976.3,965.7 L980.3,959.9 L984.3,954.0 L988.3,947.9 L992.3,941.7 L996.3,935.4 L1000.3,928.9 L1004.3,922.2 L1008.3,915.4 L1012.3,908.5 L1016.3,901.4 L1020.3,894.1 L1024.3,886.6 L1028.3,879.0 L1032.3,871.1 L1036.3,863.1 L1040.3,854.9 L1044.3,846.6 L1048.3,838.0 L1052.3,829.2 L1056.3,820.2 L1060.3,811.0 L1064.3,801.6 L1068.3,792.0 L1072.3,782.1 L1076.3,772.0 L1080.3,761.7 L1084.3,751.1 L1088.3,740.3 L1092.3,729.2 L1096.3,717.9 L1100.3,706.3 L1104.3,694.4 L1108.3,682.2 L1112.3,669.8 L1116.3,657.1 L1120.3,644.1 L1124.3,630.7 L1128.3,617.1 L1132.3,603.1 L1136.3,588.8 L1140.3,574.2 L1144.3,559.2 L1148.3,543.9 L1152.3,528.2 L1156.3,512.1 L1160.3,495.7 L1164.3,478.9 L1168.3,461.7 L1172.3,444.1 L1176.3,426.1 L1180.3,407.6 L1184.3,388.7 L1188.3,369.4 L1192.3,349.6 L1196.3,329.4 L1200.3,308.6 L1204.3,287.4 L1208.3,265.7 L1212.3,243.5 L1216.3,220.8 L1220.3,197.5 L1224.3,173.7 L1228.3,149.3 L1232.3,124.4 L1236.3,98.9 L1240.3,72.7 L1244.3,46.0 L1248.3,18.6 L1252.3,-9.4 L1256.3,-38.1 L1260.3,-67.4" stroke="#000" stroke-width="7" stroke-dasharray="0 17.2"/>
<path d="M392.3,1202.2 L396.3,1202.0 L400.3,1201.7 L404.3,1201.5 L408.3,1201.2 L412.3,1201.0 L416.3,1200.7 L420.3,1200.4 L424.3,1200.2 L428.3,1199.9 L432.3,1199.6 L436.3,1199.3 L440.3,1199.0 L444.3,1198.7 L448.3,1198.4 L452.3,1198.1 L456.3,1197.7 L460.3,1197.4 L464.3,1197.1 L468.3,1196.7 L472.3,1196.3 L476.3,1196.0 L480.3,1195.6 L484.3,1195.2 L488.3,1194.8 L492.3,1194.4 L496.3,1194.0 L500.3,1193.6 L504.3,1193.1 L508.3,1192.7 L512.3,1192.2 L516.3,1191.8 L520.3,1191.3 L524.3,1190.8 L528.3,1190.3 L532.3,1189.8 L536.3,1189.3 L540.3,1188.7 L544.3,1188.2 L548.3,1187.6 L552.3,1187.0 L556.3,1186.4 L560.3,1185.8 L564.3,1185.2 L568.3,1184.6 L572.3,1184.0 L576.3,1183.3 L580.3,1182.6 L584.3,1181.9 L588.3,1181.2 L592.3,1180.5 L596.3,1179.7 L600.3,1179.0 L604.3,1178.2 L608.3,1177.4 L612.3,1176.6 L616.3,1175.8 L620.3,1174.9 L624.3,1174.0 L628.3,1173.1 L632.3,1172.2 L636.3,1171.3 L640.3,1170.3 L644.3,1169.4 L648.3,1168.4 L652.3,1167.3 L656.3,1166.3 L660.3,1165.2 L664.3,1164.1 L668.3,1163.0 L672.3,1161.8 L676.3,1160.6 L680.3,1159.4 L684.3,1158.2 L688.3,1156.9 L692.3,1155.6 L696.3,1154.3 L700.3,1153.0 L704.3,1151.6 L708.3,1150.1 L712.3,1148.7 L716.3,1147.2 L720.3,1145.7 L724.3,1144.1 L728.3,1142.5 L732.3,1140.9 L736.3,1139.2 L740.3,1137.5 L744.3,1135.8 L748.3,1134.0 L752.3,1132.1 L756.3,1130.3 L760.3,1128.3 L764.3,1126.4 L768.3,1124.4 L772.3,1122.3 L776.3,1120.2 L780.3,1118.0 L784.3,1115.8 L788.3,1113.6 L792.3,1111.3 L796.3,1108.9 L800.3,1106.5 L804.3,1104.0 L808.3,1101.5 L812.3,1098.9 L816.3,1096.2 L820.3,1093.5 L824.3,1090.7 L828.3,1087.8 L832.3,1084.9 L836.3,1081.9 L840.3,1078.9 L844.3,1075.8 L848.3,1072.6 L852.3,1069.3 L856.3,1065.9 L860.3,1062.5 L864.3,1059.0 L868.3,1055.4 L872.3,1051.7 L876.3,1047.9 L880.3,1044.1 L884.3,1040.2 L888.3,1036.1 L892.3,1032.0 L896.3,1027.8 L900.3,1023.4 L904.3,1019.0 L908.3,1014.5 L912.3,1009.8 L916.3,1005.1 L920.3,1000.2 L924.3,995.3 L928.3,990.2 L932.3,985.0 L936.3,979.6 L940.3,974.2 L944.3,968.6 L948.3,962.9 L952.3,957.0 L956.3,951.0 L960.3,944.9 L964.3,938.6 L968.3,932.2 L972.3,925.6 L976.3,918.9 L980.3,912.0 L984.3,905.0 L988.3,897.8 L992.3,890.4 L996.3,882.9 L1000.3,875.1 L1004.3,867.2 L1008.3,859.1 L1012.3,850.8 L1016.3,842.4 L1020.3,833.7 L1024.3,824.8 L1028.3,815.7 L1032.3,806.4 L1036.3,796.9 L1040.3,787.1 L1044.3,777.2 L1048.3,766.9 L1052.3,756.5 L1056.3,745.8 L1060.3,734.9 L1064.3,723.7 L1068.3,712.2 L1072.3,700.5 L1076.3,688.4 L1080.3,676.2 L1084.3,663.6 L1088.3,650.7 L1092.3,637.5 L1096.3,624.0 L1100.3,610.2 L1104.3,596.1 L1108.3,581.6 L1112.3,566.8 L1116.3,551.7 L1120.3,536.2 L1124.3,520.3 L1128.3,504.1 L1132.3,487.5 L1136.3,470.5 L1140.3,453.1 L1144.3,435.2 L1148.3,417.0 L1152.3,398.3 L1156.3,379.2 L1160.3,359.7 L1164.3,339.7 L1168.3,319.2 L1172.3,298.3 L1176.3,276.8 L1180.3,254.9 L1184.3,232.4 L1188.3,209.4 L1192.3,185.8 L1196.3,161.8 L1200.3,137.1 L1204.3,111.9 L1208.3,86.0 L1212.3,59.6 L1216.3,32.6 L1220.3,4.9 L1224.3,-23.5 L1228.3,-52.5 L1232.3,-82.1" stroke="#000" stroke-width="9.5" stroke-dasharray="0 24"/>
<path d="M392.3,1203.0 L396.3,1202.7 L400.3,1202.5 L404.3,1202.3 L408.3,1202.1 L412.3,1201.8 L416.3,1201.6 L420.3,1201.4 L424.3,1201.1 L428.3,1200.8 L432.3,1200.6 L436.3,1200.3 L440.3,1200.0 L444.3,1199.7 L448.3,1199.5 L452.3,1199.2 L456.3,1198.9 L460.3,1198.5 L464.3,1198.2 L468.3,1197.9 L472.3,1197.6 L476.3,1197.2 L480.3,1196.9 L484.3,1196.5 L488.3,1196.2 L492.3,1195.8 L496.3,1195.4 L500.3,1195.0 L504.3,1194.6 L508.3,1194.2 L512.3,1193.8 L516.3,1193.3 L520.3,1192.9 L524.3,1192.5 L528.3,1192.0 L532.3,1191.5 L536.3,1191.0 L540.3,1190.5 L544.3,1190.0 L548.3,1189.5 L552.3,1189.0 L556.3,1188.4 L560.3,1187.9 L564.3,1187.3 L568.3,1186.7 L572.3,1186.1 L576.3,1185.5 L580.3,1184.9 L584.3,1184.3 L588.3,1183.6 L592.3,1183.0 L596.3,1182.3 L600.3,1181.6 L604.3,1180.9 L608.3,1180.1 L612.3,1179.4 L616.3,1178.6 L620.3,1177.8 L624.3,1177.0 L628.3,1176.2 L632.3,1175.3 L636.3,1174.5 L640.3,1173.6 L644.3,1172.7 L648.3,1171.8 L652.3,1170.8 L656.3,1169.9 L660.3,1168.9 L664.3,1167.8 L668.3,1166.8 L672.3,1165.7 L676.3,1164.7 L680.3,1163.5 L684.3,1162.4 L688.3,1161.2 L692.3,1160.0 L696.3,1158.8 L700.3,1157.6 L704.3,1156.3 L708.3,1155.0 L712.3,1153.6 L716.3,1152.3 L720.3,1150.9 L724.3,1149.4 L728.3,1148.0 L732.3,1146.5 L736.3,1144.9 L740.3,1143.3 L744.3,1141.7 L748.3,1140.1 L752.3,1138.4 L756.3,1136.6 L760.3,1134.9 L764.3,1133.1 L768.3,1131.2 L772.3,1129.3 L776.3,1127.4 L780.3,1125.4 L784.3,1123.3 L788.3,1121.3 L792.3,1119.1 L796.3,1116.9 L800.3,1114.7 L804.3,1112.4 L808.3,1110.1 L812.3,1107.7 L816.3,1105.2 L820.3,1102.7 L824.3,1100.2 L828.3,1097.5 L832.3,1094.8 L836.3,1092.1 L840.3,1089.3 L844.3,1086.4 L848.3,1083.4 L852.3,1080.4 L856.3,1077.3 L860.3,1074.2 L864.3,1070.9 L868.3,1067.6 L872.3,1064.2 L876.3,1060.8 L880.3,1057.2 L884.3,1053.6 L888.3,1049.8 L892.3,1046.0 L896.3,1042.1 L900.3,1038.2 L904.3,1034.1 L908.3,1029.9 L912.3,1025.6 L916.3,1021.2 L920.3,1016.8 L924.3,1012.2 L928.3,1007.5 L932.3,1002.7 L936.3,997.8 L940.3,992.7 L944.3,987.6 L948.3,982.3 L952.3,976.9 L956.3,971.4 L960.3,965.7 L964.3,960.0 L968.3,954.0 L972.3,948.0 L976.3,941.8 L980.3,935.4 L984.3,928.9 L988.3,922.3 L992.3,915.5 L996.3,908.5 L1000.3,901.4 L1004.3,894.1 L1008.3,886.7 L1012.3,879.0 L1016.3,871.2 L1020.3,863.2 L1024.3,855.0 L1028.3,846.6 L1032.3,838.0 L1036.3,829.3 L1040.3,820.3 L1044.3,811.1 L1048.3,801.7 L1052.3,792.0 L1056.3,782.2 L1060.3,772.1 L1064.3,761.8 L1068.3,751.2 L1072.3,740.4 L1076.3,729.3 L1080.3,718.0 L1084.3,706.4 L1088.3,694.5 L1092.3,682.3 L1096.3,669.9 L1100.3,657.2 L1104.3,644.2 L1108.3,630.8 L1112.3,617.2 L1116.3,603.2 L1120.3,588.9 L1124.3,574.3 L1128.3,559.3 L1132.3,544.0 L1136.3,528.3 L1140.3,512.3 L1144.3,495.8 L1148.3,479.0 L1152.3,461.8 L1156.3,444.2 L1160.3,426.2 L1164.3,407.7 L1168.3,388.9 L1172.3,369.5 L1176.3,349.8 L1180.3,329.5 L1184.3,308.8 L1188.3,287.6 L1192.3,265.9 L1196.3,243.7 L1200.3,221.0 L1204.3,197.7 L1208.3,173.9 L1212.3,149.5 L1216.3,124.6 L1220.3,99.1 L1224.3,72.9 L1228.3,46.2 L1232.3,18.8 L1236.3,-9.2 L1240.3,-37.8 L1244.3,-67.2 L1248.3,-97.2" stroke="#000" stroke-width="13" stroke-dasharray="0 30.9"/>
</g>
<rect x="320" y="29" width="599.5" height="713.5" fill="#fff" stroke="#2e2e2e" stroke-width="3.5"/>
<g fill="none" stroke-linecap="round">
<line x1="358.0" y1="70.3" x2="443.0" y2="70.3" stroke="#ff0000" stroke-width="11.5"/>
<line x1="358.0" y1="149.2" x2="443.0" y2="149.2" stroke="#000" stroke-width="12" stroke-dasharray="20 21"/>
<line x1="356.0" y1="228.0" x2="439.0" y2="228.0" stroke="#000" stroke-width="14" stroke-dasharray="28 26.5"/>
<line x1="356.5" y1="306.5" x2="443.0" y2="306.5" stroke="#000" stroke-width="16" stroke-dasharray="34 35"/>
<line x1="358.0" y1="385.9" x2="443.0" y2="385.9" stroke="#ffc000" stroke-width="11.5"/>
<line x1="358.0" y1="465.5" x2="443.0" y2="465.5" stroke="#0070c0" stroke-width="11.5"/>
<line x1="356.4" y1="543.8" x2="443.0" y2="543.8" stroke="#000" stroke-width="7" stroke-dasharray="0 17.2"/>
<line x1="358.1" y1="621.6" x2="440.0" y2="621.6" stroke="#000" stroke-width="9.5" stroke-dasharray="0 24"/>
<line x1="356.4" y1="703.0" x2="440.0" y2="703.0" stroke="#000" stroke-width="13" stroke-dasharray="0 30.9"/>
</g>
<g font-family="'Liberation Sans', Arial, sans-serif" font-weight="bold" fill="#000">
<g font-size="49">
<text x="452.5" y="85.0">oil</text>
<text x="451.5" y="161.6">EMGmin 432 kA/m</text>
<text x="451.5" y="240.4">EMGmin 216 kA/m</text>
<text x="451.5" y="320.8">EMGmin 0 kA/m</text>
<text x="453.1" y="399.8">ethanol</text>
<text x="454.8" y="479.4">water</text>
<text x="451.5" y="556.6">EMGmax 432 kA/m</text>
<text x="451.5" y="635.2">EMGmax 216 kA/m</text>
<text x="451.5" y="715.3">EMGmax 0 kA/m</text>
</g>
<g font-size="68.5" text-anchor="end">
<text x="265.2" y="1235.5">0</text>
<text x="265.2" y="999.4">1 000</text>
<text x="265.2" y="765.2">2 000</text>
<text x="265.2" y="530.9">3 000</text>
<text x="265.2" y="296.7">4 000</text>
<text x="265.2" y="62.4">5 000</text>
</g>
<g font-size="68.5" text-anchor="middle">
<text x="322.4" y="1315">0,1</text>
<text x="719.4" y="1315">1,0</text>
<text x="1116.4" y="1315">10,0</text>
<text x="1513.3" y="1315">100,0</text>
<text x="1910.3" y="1315">1000,0</text>
<text x="2308.0" y="1315">10000,0</text>
</g>
<text x="1322.5" y="1411.4" font-size="69" text-anchor="middle">speed (rpm)</text>
<text transform="translate(68.6,704) rotate(-90)" font-size="68.5">Re (1)</text>
</g>
<line x1="316" y1="952.8" x2="2324" y2="946" stroke="#1f6fc9" stroke-width="16"/>
<g font-family="'Liberation Sans', Arial, sans-serif" font-weight="bold" fill="#157acb">
<text x="173.6" y="945.2" font-size="60" textLength="71" lengthAdjust="spacingAndGlyphs" stroke="#157acb" stroke-width="1.2">Re</text>
<text x="247" y="959.3" font-size="35" stroke="#157acb" stroke-width="0.8">c</text>
</g>
</svg>
</body></html>
